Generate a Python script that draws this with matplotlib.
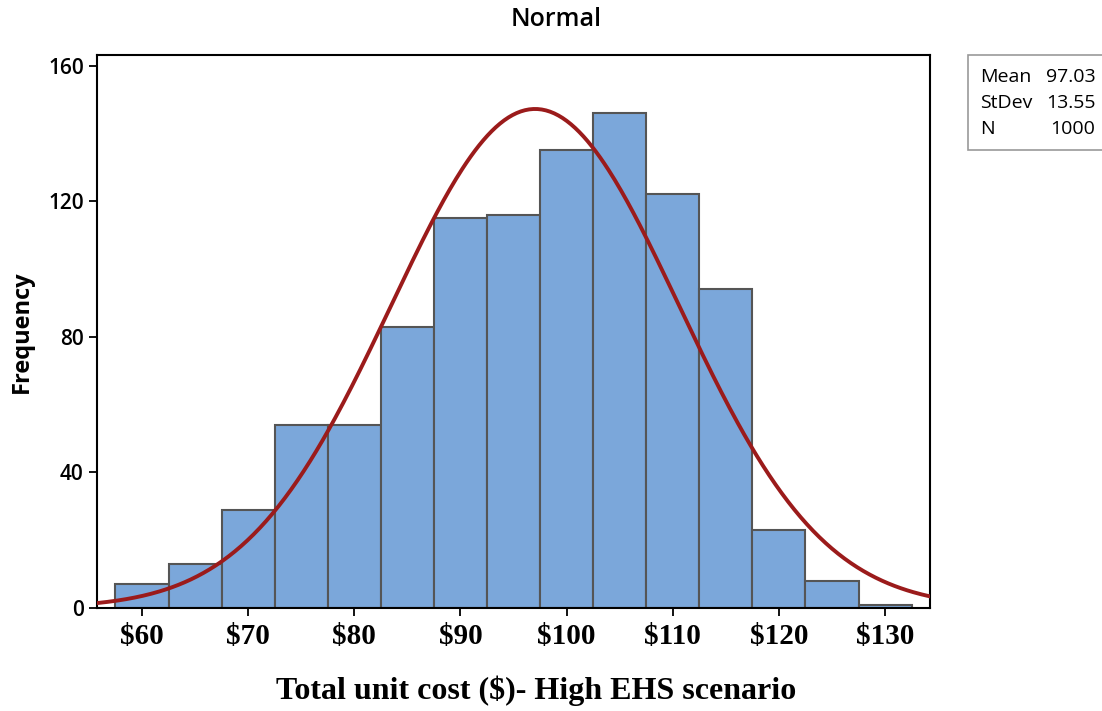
import numpy as np
import matplotlib
matplotlib.use('Agg')
import matplotlib.pyplot as plt

# bin centres ($) and counts
bin_centers = [60, 65, 70, 75, 80, 85, 90, 95, 100, 105, 110, 115, 120, 125, 130]
counts = [7, 13, 29, 54, 54, 83, 115, 116, 135, 146, 122, 94, 23, 8, 1]
bin_width = 5
mean_val = 97.03
std_val = 13.55
n_obs = 1000
x_ticks = [60, 70, 80, 90, 100, 110, 120, 130]
x_tick_labels = ['$60', '$70', '$80', '$90', '$100', '$110', '$120', '$130']
y_ticks = [0, 40, 80, 120, 160]

sans = ['Open Sans', 'DejaVu Sans']
serif = ['Liberation Serif', 'DejaVu Serif']

fig = plt.figure(figsize=(11.02, 7.11), dpi=100)
ax = fig.add_axes([0.088, 0.145, 0.756, 0.777])

ax.bar(bin_centers, counts, width=bin_width, color='#7ba7da',
       edgecolor='#555555', linewidth=1.5, zorder=2)

# fitted normal curve scaled to counts
xs = np.linspace(55.76, 134.24, 400)
ys = n_obs * bin_width * np.exp(-0.5 * ((xs - mean_val) / std_val) ** 2) / (std_val * np.sqrt(2 * np.pi))
ax.plot(xs, ys, color='#9b1b1b', linewidth=2.8, zorder=3)

ax.set_xlim(55.76, 134.24)
ax.set_ylim(0, 163)
ax.set_xticks(x_ticks)
ax.set_xticklabels(x_tick_labels, fontfamily=serif, fontweight='bold', fontsize=21)
ax.set_yticks(y_ticks)
for lab in ax.get_yticklabels():
    lab.set_fontfamily(sans)
    lab.set_fontsize(15)
    lab.set_fontweight('semibold')
ax.tick_params(direction='out', length=6, width=1.3, color='black')
ax.tick_params(axis='x', pad=5)
for sp in ax.spines.values():
    sp.set_linewidth(1.5)
    sp.set_color('black')

ax.set_xlabel('Total unit cost ($)- High EHS scenario', fontfamily=serif,
              fontweight='bold', fontsize=23, labelpad=18)
ax.xaxis.label.set_x(0.527)
ax.set_ylabel('Frequency', fontfamily=sans, fontweight='bold', fontsize=17, labelpad=10)
fig.text(0.505, 0.972, 'Normal', ha='center', va='center', fontfamily=sans,
         fontweight='semibold', fontsize=18)

# stats box
box = plt.Rectangle((0.878, 0.789), 0.125, 0.134, transform=fig.transFigure,
                    facecolor='white', edgecolor='#999999', linewidth=1.2)
fig.patches.append(box)
rows = [('Mean', '97.03'), ('StDev', '13.55'), ('N', '1000')]
for i, (k, v) in enumerate(rows):
    yy = 0.892 - i * 0.037
    fig.text(0.889, yy, k, ha='left', va='center', fontfamily=sans,
             fontweight='medium', fontsize=14)
    fig.text(0.994, yy, v, ha='right', va='center', fontfamily=sans,
             fontweight='medium', fontsize=14)

fig.savefig('out.png', dpi=100)
